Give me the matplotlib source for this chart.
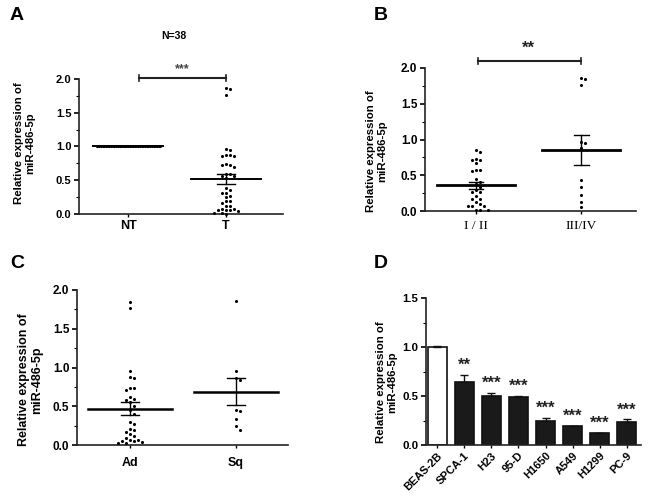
import numpy as np
import matplotlib
matplotlib.use("Agg")
import matplotlib.pyplot as plt

plt.rcParams['font.family'] = ['Liberation Sans', 'DejaVu Sans']
plt.rcParams['font.weight'] = 'bold'

# ---- data ----
a_groups = ['NT', 'T']
a_nt = [1.0] * 38
a_t = [1.86, 1.85, 1.76, 0.96, 0.95, 0.87, 0.86, 0.86, 0.88, 0.74, 0.72, 0.70, 0.73,
       0.60, 0.57, 0.59, 0.56, 0.54, 0.38, 0.35, 0.31, 0.31, 0.27, 0.25, 0.20, 0.19,
       0.17, 0.12, 0.12, 0.07, 0.06, 0.07, 0.06, 0.05, 0.06, 0.02, 0.01, 0.0]

b_groups = ['I / II', 'III/IV']
b_early = [0.85, 0.83, 0.73, 0.72, 0.71, 0.67, 0.58, 0.56, 0.57, 0.45, 0.40, 0.38, 0.33,
           0.30, 0.27, 0.27, 0.21, 0.17, 0.17, 0.12, 0.10, 0.07, 0.07, 0.07, 0.02, 0.02, 0.02]
b_late = [1.86, 1.84, 1.76, 0.96, 0.95, 0.88, 0.44, 0.34, 0.23, 0.12, 0.06]

c_groups = ['Ad', 'Sq']
c_ad = [1.84, 1.77, 0.96, 0.88, 0.86, 0.74, 0.73, 0.71, 0.62, 0.60, 0.58, 0.55, 0.50,
        0.45, 0.40, 0.30, 0.27, 0.21, 0.19, 0.17, 0.14, 0.12, 0.09, 0.07, 0.07, 0.05,
        0.05, 0.04, 0.03, 0.02]
c_sq = [1.86, 0.96, 0.87, 0.84, 0.45, 0.44, 0.34, 0.24, 0.19]

d_cells = ['BEAS-2B', 'SPCA-1', 'H23', '95-D', 'H1650', 'A549', 'H1299', 'PC-9']
d_means = [1.0, 0.645, 0.50, 0.49, 0.25, 0.19, 0.12, 0.235]
d_sem = [0.015, 0.07, 0.035, 0.015, 0.03, 0.005, 0.005, 0.028]
d_stars = ['', '**', '***', '***', '***', '***', '***', '***']

YLABEL = 'Relative expression of\nmiR-486-5p'
W, H = 648, 496


def rect(x0, x1, y0, y1):
    return [x0 / W, 1 - y1 / H, (x1 - x0) / W, (y1 - y0) / H]


def swarm(vals, ppx, ppy, d=4.0):
    placed = []
    order = np.argsort(vals)[::-1]
    res = np.zeros(len(vals))
    for i in order:
        y = vals[i] * ppy
        for k in range(60):
            c = (k + 1) // 2 * (1 if k % 2 else -1)
            x = c * d
            if all((x - px) ** 2 + (y - py) ** 2 >= d * d * 0.95 for px, py in placed):
                break
        placed.append((x, y))
        res[i] = x / ppx
    return res


def style(ax, fs=8.5):
    for s in ['top', 'right']:
        ax.spines[s].set_visible(False)
    for s in ['left', 'bottom']:
        ax.spines[s].set_linewidth(1.2)
        ax.spines[s].set_color('#222222')
    ax.tick_params(axis='y', direction='out', length=3.5, width=1.2, pad=2, labelsize=fs)
    ax.tick_params(axis='y', which='minor', direction='out', length=2, width=0.8)
    ax.tick_params(axis='x', direction='out', length=2.5, width=1.0, pad=2, labelsize=9)


def dots(ax, groups, ppx, ppy, half_mean, half_cap, lw, spacing=None):
    for i, vals in enumerate(groups):
        vals = np.asarray(vals, dtype=float)
        pos = i + 1
        dd = 4.0 if spacing is None or spacing[i] is None else spacing[i]
        offs = swarm(vals, ppx, ppy, dd)
        ax.scatter(pos + offs, vals, s=5, c='k', lw=0, zorder=3, clip_on=False)
        m = vals.mean()
        se = vals.std(ddof=1) / np.sqrt(len(vals))
        ax.plot([pos - half_mean, pos + half_mean], [m, m], color='k', lw=lw, zorder=4)
        ax.plot([pos, pos], [m - se, m + se], color='k', lw=1.0, zorder=4)
        for yv in (m - se, m + se):
            ax.plot([pos - half_cap, pos + half_cap], [yv, yv], color='k', lw=1.0, zorder=4)


def bracket(ax, x0, x1, y, h):
    ax.plot([x0, x1], [y, y], color='#222222', lw=1.5, clip_on=False)
    for xv in (x0, x1):
        ax.plot([xv, xv], [y - h, y + h], color='#222222', lw=1.2, clip_on=False)


fig = plt.figure(figsize=(6.48, 4.96), dpi=100)

# ---- A ----
axA = fig.add_axes(rect(79, 283, 79, 214))
style(axA, 8)
dots(axA, [a_nt, a_t], 98, 67.5, 0.36, 0.09, 1.4, spacing=[1.7, None])
axA.set_xlim(0.5, 2.58)
axA.set_ylim(0, 2.0)
axA.set_yticks(np.arange(0, 2.01, 0.5))
axA.set_yticks(np.arange(0, 2.01, 0.25), minor=True)
axA.yaxis.set_major_formatter(matplotlib.ticker.FormatStrFormatter('%.1f'))
axA.set_xticks([1, 2], a_groups)
axA.set_ylabel(YLABEL, fontsize=8.2, fontweight='bold', linespacing=1.15)
axA.yaxis.set_label_coords(-0.216, 0.526)
bracket(axA, 1.11, 2.0, 2.015, 0.04)
axA.text(1.55, 2.06, '***', ha='center', va='bottom', fontsize=9, color='#444444')
fig.text(174 / W, 1 - 36 / H, 'N=38', ha='center', va='center', fontsize=7.5, fontweight='bold')

# ---- B ----
axB = fig.add_axes(rect(425, 636, 68, 211))
style(axB)
dots(axB, [b_early, b_late], 105, 71.5, 0.37, 0.07, 2.0)
axB.set_xlim(0.514, 2.52)
axB.set_ylim(0, 2.0)
axB.set_yticks(np.arange(0, 2.01, 0.5))
axB.set_yticks(np.arange(0, 2.01, 0.25), minor=True)
axB.yaxis.set_major_formatter(matplotlib.ticker.FormatStrFormatter('%.1f'))
axB.set_xticks([1, 2])
axB.set_xticklabels(b_groups, fontfamily='Liberation Serif', fontweight='normal', fontsize=9.5)
axB.tick_params(axis='x', pad=4)
axB.set_ylabel(YLABEL, fontsize=8.2, fontweight='bold', linespacing=1.15)
axB.yaxis.set_label_coords(-0.18, 0.416)
bracket(axB, 1.02, 2.0, 2.10, 0.04)
axB.text(1.5, 2.17, '**', ha='center', va='bottom', fontsize=12, color='#222222')

# ---- C ----
axC = fig.add_axes(rect(77, 288, 290, 445))
style(axC)
dots(axC, [c_ad, c_sq], 106, 77.5, 0.40, 0.085, 1.8)
axC.set_xlim(0.5, 2.49)
axC.set_ylim(0, 2.0)
axC.set_yticks(np.arange(0, 2.01, 0.5))
axC.set_yticks(np.arange(0, 2.01, 0.25), minor=True)
axC.yaxis.set_major_formatter(matplotlib.ticker.FormatStrFormatter('%.1f'))
axC.set_xticks([1, 2], c_groups)
axC.tick_params(axis='x', pad=6)
axC.set_ylabel(YLABEL, fontsize=9, fontweight='bold', linespacing=1.15)
axC.yaxis.set_label_coords(-0.161, 0.42)

# ---- D ----
axD = fig.add_axes(rect(426, 641, 298, 445))
style(axD, 8.2)
xs = np.arange(len(d_cells))
colors = ['white'] + ['#1a1a1a'] * (len(d_cells) - 1)
axD.bar(xs, d_means, width=0.7, color=colors, edgecolor='#111111', linewidth=1.2, zorder=2)
axD.errorbar(xs, d_means, yerr=[np.zeros(len(xs)), d_sem], fmt='none', ecolor='#111111',
             elinewidth=1.0, capsize=3, capthick=1.0, zorder=3)
for x, m, e, st in zip(xs, d_means, d_sem, d_stars):
    if st:
        axD.text(x, m + e + 0.02, st, ha='center', va='bottom', fontsize=12, color='#222222')
axD.set_xlim(-0.41, 7.52)
axD.set_ylim(0, 1.5)
axD.set_yticks(np.arange(0, 1.51, 0.5))
axD.set_yticks(np.arange(0, 1.51, 0.25), minor=True)
axD.yaxis.set_major_formatter(matplotlib.ticker.FormatStrFormatter('%.1f'))
axD.set_xticks(xs)
axD.set_xticklabels(d_cells, rotation=45, ha='right', va='top', rotation_mode='anchor', fontsize=8)
axD.tick_params(axis='x', pad=1.5)
axD.set_ylabel(YLABEL, fontsize=8.2, fontweight='bold', linespacing=1.15)
axD.yaxis.set_label_coords(-0.135, 0.43)

# panel letters
for lab, x, y in [('A', 10, 7), ('B', 374, 7), ('C', 10, 255), ('D', 374, 255)]:
    fig.text(x / W, 1 - y / H, lab, ha='left', va='top', fontsize=14, fontweight='bold')

fig.savefig('out.png', dpi=100)
